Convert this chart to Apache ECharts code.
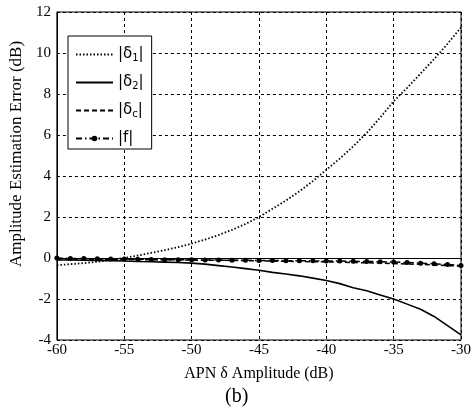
<!DOCTYPE html>
<html><head><meta charset="utf-8">
<script src="https://cdn.jsdelivr.net/npm/echarts@6/dist/echarts.min.js"></script>
<style>html,body{margin:0;padding:0;background:#fff}#c{width:474px;height:412px}</style>
</head><body><div id="c"></div>
<script>
var xs = [-60,-59,-58,-57,-56,-55,-54,-53,-52,-51,-50,-49,-48,-47,-46,-45,-44,-43,-42,-41,-40,-39,-38,-37,-36,-35,-34,-33,-32,-31,-30];
var d1 = [-0.35,-0.3,-0.25,-0.18,-0.1,0.0,0.12,0.25,0.38,0.53,0.7,0.9,1.12,1.37,1.66,2.0,2.4,2.8,3.25,3.75,4.3,4.85,5.45,6.1,6.85,7.65,8.3,9.0,9.7,10.45,11.25];
var d2 = [-0.1,-0.1,-0.11,-0.12,-0.13,-0.15,-0.17,-0.18,-0.2,-0.22,-0.25,-0.3,-0.37,-0.44,-0.52,-0.6,-0.7,-0.78,-0.87,-0.98,-1.1,-1.25,-1.45,-1.6,-1.8,-2.0,-2.25,-2.5,-2.85,-3.3,-3.75];
var dc = [-0.05,-0.05,-0.06,-0.06,-0.07,-0.07,-0.08,-0.08,-0.09,-0.09,-0.1,-0.11,-0.11,-0.12,-0.13,-0.14,-0.15,-0.16,-0.17,-0.18,-0.19,-0.2,-0.22,-0.23,-0.25,-0.27,-0.29,-0.31,-0.34,-0.37,-0.4];
var f = [0,-0.02,-0.03,-0.04,-0.05,-0.05,-0.06,-0.07,-0.08,-0.08,-0.09,-0.1,-0.1,-0.11,-0.11,-0.12,-0.12,-0.13,-0.13,-0.14,-0.15,-0.15,-0.16,-0.17,-0.18,-0.2,-0.22,-0.25,-0.28,-0.32,-0.37];
var names = ['d1','d2','dc','f'];
var labels = {d1:'{a|\u007C\u03B4}{s|1}{a|\u007C}', d2:'{a|\u007C\u03B4}{s|2}{a|\u007C}', dc:'{a|\u007C\u03B4}{s|c}{a|\u007C}', f:'{a|\u007Cf\u007C}'};
var yTicks = [-4,-2,0,2,4,6,8,10,12];
var xTicks = [-60,-55,-50,-45,-40,-35,-30];

function pairs(arr){ return xs.map(function(x,i){ return [x, arr[i]]; }); }

var chart = echarts.init(document.getElementById('c'), null, {renderer:'canvas'});
var axisFont = {color:'#000', fontFamily:'Liberation Serif', fontSize:15};
var split = {show:true, lineStyle:{color:'#000', type:[3,3], width:1}};
chart.setOption({
  animation:false,
  backgroundColor:'#fff',
  title:{text:'(b)', left:220, top:382, textStyle:{fontFamily:'Liberation Serif', fontSize:20, fontWeight:'normal', color:'#000'}},
  grid:{left:53, right:6, top:12, bottom:72, show:true, borderColor:'#000', borderWidth:1},
  xAxis:{type:'value', min:-60, max:-30, interval:5,
    name:'APN \u03B4 Amplitude (dB)', nameLocation:'middle', nameGap:26,
    nameTextStyle:{fontFamily:'Liberation Serif', fontSize:16, color:'#000'},
    axisLine:{show:true, lineStyle:{color:'#000'}}, axisTick:{show:false},
    axisLabel:Object.assign({margin:3, formatter:function(v){return xTicks.indexOf(v)>=0? String(v):'';}}, axisFont),
    splitLine:split},
  yAxis:{type:'value', min:-4, max:12, interval:2,
    name:'Amplitude Estimation Error (dB)', nameLocation:'middle', nameGap:28,
    nameTextStyle:{fontFamily:'Liberation Serif', fontSize:17, color:'#000', padding:[0,0,0,44]},
    axisLine:{show:true, lineStyle:{color:'#000'}}, axisTick:{show:false},
    axisLabel:Object.assign({margin:6, formatter:function(v){return yTicks.indexOf(v)>=0? String(v):'';}}, axisFont),
    splitLine:split},
  legend:{orient:'vertical', left:68, top:36, width:80,
    data:[{name:'d1', itemStyle:{opacity:0}},{name:'d2', itemStyle:{opacity:0}},{name:'dc', itemStyle:{opacity:0}},{name:'f'}],
    backgroundColor:'#fff', borderColor:'#000', borderWidth:1,
    padding:[11,8,3,7], itemGap:12, itemWidth:37, itemHeight:7,
    formatter:function(n){return labels[n];},
    textStyle:{color:'#000', rich:{a:{fontFamily:'DejaVu Sans', fontSize:15, color:'#000'}, s:{fontFamily:'DejaVu Sans', fontSize:10, color:'#000', verticalAlign:'bottom', padding:[7,0,0,0]}}}},
  series:[
    {name:'d1', type:'line', color:'#000', data:pairs(d1), showSymbol:false, symbol:'none', lineStyle:{color:'#000', width:1.8, type:[1.5,2]}},
    {name:'d2', type:'line', color:'#000', data:pairs(d2), showSymbol:false, symbol:'none', lineStyle:{color:'#000', width:1.6, type:'solid'}},
    {name:'dc', type:'line', color:'#000', data:pairs(dc), showSymbol:false, symbol:'none', lineStyle:{color:'#000', width:1.5, type:[5,3]}},
    {name:'f', type:'line', color:'#000', data:pairs(f), symbol:'circle', symbolSize:5, showSymbol:true, itemStyle:{color:'#000'}, lineStyle:{color:'#000', width:1.5, type:[6,3,1.5,3]}}
  ]
});
</script></body></html>
